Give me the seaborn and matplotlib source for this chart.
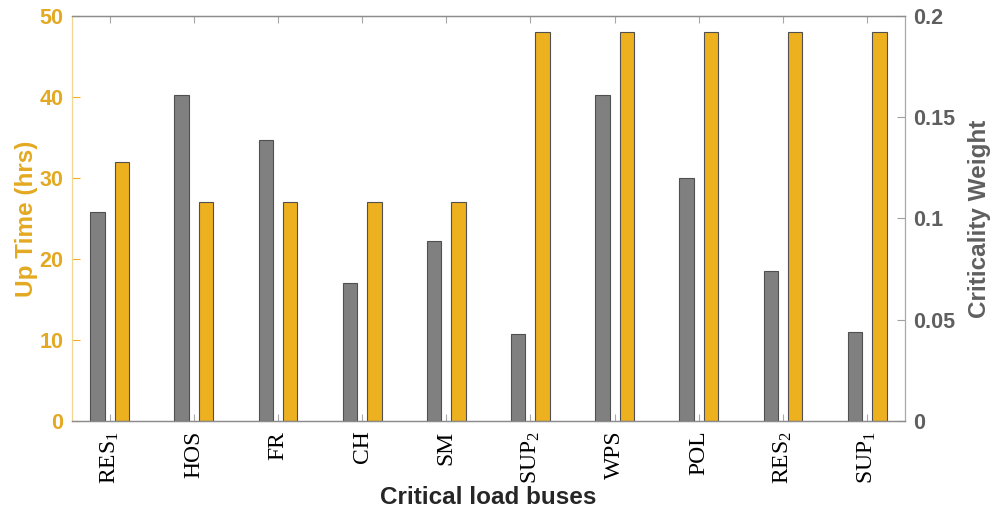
import matplotlib
matplotlib.use("Agg")
import matplotlib.pyplot as plt
import numpy as np
import pandas as pd
import seaborn as sns

# Critical load buses and their values
buses = ["RES$_1$", "HOS", "FR", "CH", "SM", "SUP$_2$", "WPS", "POL", "RES$_2$", "SUP$_1$"]
criticality_weight = [0.103, 0.161, 0.139, 0.068, 0.089, 0.043, 0.161, 0.120, 0.074, 0.044]
up_time_hrs = [32, 27, 27, 27, 27, 48, 48, 48, 48, 48]

up_ticks = [0, 10, 20, 30, 40, 50]
cw_ticks = [0, 0.05, 0.1, 0.15, 0.2]
cw_tick_labels = ["0", "0.05", "0.1", "0.15", "0.2"]

ORANGE = "#EDB120"
ORANGE_TXT = "#E3A922"
GREY_BAR = "#808080"
GREY_TXT = "#5f5f5f"

sns.set_theme(style="white")
plt.rcParams["font.family"] = ["Liberation Sans", "DejaVu Sans"]
plt.rcParams["mathtext.fontset"] = "custom"
plt.rcParams["mathtext.rm"] = "Liberation Serif"
plt.rcParams["mathtext.it"] = "Liberation Serif:italic"
plt.rcParams["mathtext.bf"] = "Liberation Serif:bold"

series_order = ["Criticality Weight", "Up Time"]
palette = {"Criticality Weight": GREY_BAR, "Up Time": ORANGE}

df_up = pd.DataFrame({"bus": buses, "value": up_time_hrs, "series": "Up Time"})
df_cw = pd.DataFrame({"bus": buses, "value": criticality_weight, "series": "Criticality Weight"})

fig = plt.figure(figsize=(9.93, 5.15), dpi=100)
ax = fig.add_axes([0.0722, 0.1825, 0.8392, 0.7865])
ax2 = ax.twinx()

bar_kw = dict(x="bus", y="value", hue="series", hue_order=series_order, order=buses,
              palette=palette, width=0.58, gap=0.41, dodge=True, saturation=1,
              edgecolor="#505050", linewidth=0.8, legend=False)

sns.barplot(data=df_up, ax=ax, **bar_kw)
sns.barplot(data=df_cw, ax=ax2, **bar_kw)

ax.set_xlim(-0.45, 9.45)
ax.set_ylim(0, 50)
ax2.set_ylim(0, 0.2)
ax.set_yticks(up_ticks)
ax.set_yticklabels([str(t) for t in up_ticks])
ax2.set_yticks(cw_ticks)
ax2.set_yticklabels(cw_tick_labels)

# x axis: category ticks on top and bottom, pointing inward
ax.set_xticks(range(len(buses)))
ax.set_xticklabels(buses, rotation=90, fontsize=17, family="Liberation Serif")
ax.tick_params(axis="x", direction="in", length=5, width=0.8, color="#a8a8a8",
               top=True, bottom=True, pad=7, labelcolor="black")
ax2.xaxis.set_visible(False)

# left axis (Up Time)
ax.tick_params(axis="y", direction="in", length=6, width=0.8, color=ORANGE,
               labelcolor=ORANGE_TXT, labelsize=15.5, pad=6, right=False)
for lbl in ax.get_yticklabels():
    lbl.set_fontweight("bold")
ax.set_ylabel("Up Time (hrs)", fontsize=17.5, fontweight="bold", color=ORANGE_TXT, labelpad=1)

# right axis (Criticality Weight)
ax2.tick_params(axis="y", direction="in", length=6, width=0.8, color="#a0a0a0",
                labelcolor=GREY_TXT, labelsize=15.5, pad=6, left=False)
for lbl in ax2.get_yticklabels():
    lbl.set_fontweight("bold")
ax2.set_ylabel("Criticality Weight", fontsize=17.5, fontweight="bold", color=GREY_TXT, labelpad=9)

ax.set_xlabel("Critical load buses", fontsize=17.5, fontweight="bold", color="#262626", labelpad=2)

# spines
for a in (ax, ax2):
    for s in a.spines.values():
        s.set_linewidth(0.9)
ax.spines["left"].set_color("#f0d690")
ax.spines["right"].set_visible(False)
ax.spines["top"].set_color("#8c8c8c")
ax.spines["bottom"].set_color("#8c8c8c")
ax2.spines["left"].set_visible(False)
ax2.spines["right"].set_color("#a8a8a8")
ax2.spines["top"].set_color("#8c8c8c")
ax2.spines["bottom"].set_color("#8c8c8c")

fig.savefig("out.png", dpi=100)
